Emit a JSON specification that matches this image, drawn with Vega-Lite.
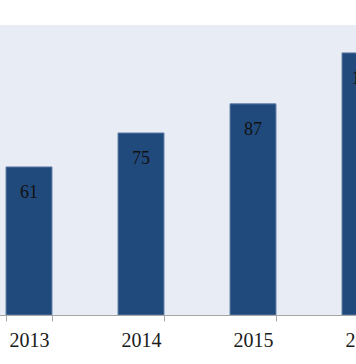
{
  "$schema": "https://vega.github.io/schema/vega-lite/v6.json",
  "width": 356,
  "height": 290,
  "autosize": {"type": "none"},
  "padding": {"top": 25, "left": 0, "right": 0, "bottom": 49},
  "background": "white",
  "config": {"view": {"fill": "#e8ecf5", "stroke": null}},
  "data": {"values": [
    {"year": "2013", "value": 61},
    {"year": "2014", "value": 75},
    {"year": "2015", "value": 87},
    {"year": "2016", "value": 108}
  ]},
  "encoding": {
    "x": {
      "field": "year", "type": "ordinal",
      "scale": {"range": [-27, 421], "paddingInner": 0.59, "paddingOuter": 0.295},
      "axis": {
        "title": null, "labelAngle": 0, "tickBand": "extent",
        "domainColor": "#a6a6a6", "tickColor": "#a6a6a6", "tickSize": 6,
        "labelFont": "Liberation Serif", "labelFontSize": 20, "labelColor": "#1a1a1a",
        "labelPadding": 9, "grid": false
      }
    },
    "y": {
      "field": "value", "type": "quantitative",
      "scale": {"domain": [0, 119.5], "nice": false},
      "axis": null
    }
  },
  "layer": [
    {"mark": {"type": "bar", "fill": "#214a7c", "stroke": "#5a7aa6", "strokeWidth": 1, "clip": true}},
    {"mark": {"type": "text", "baseline": "middle", "dy": 26, "font": "Liberation Serif", "fontSize": 18, "color": "#111111", "clip": true},
     "encoding": {"text": {"field": "value", "type": "quantitative"}}}
  ]
}
